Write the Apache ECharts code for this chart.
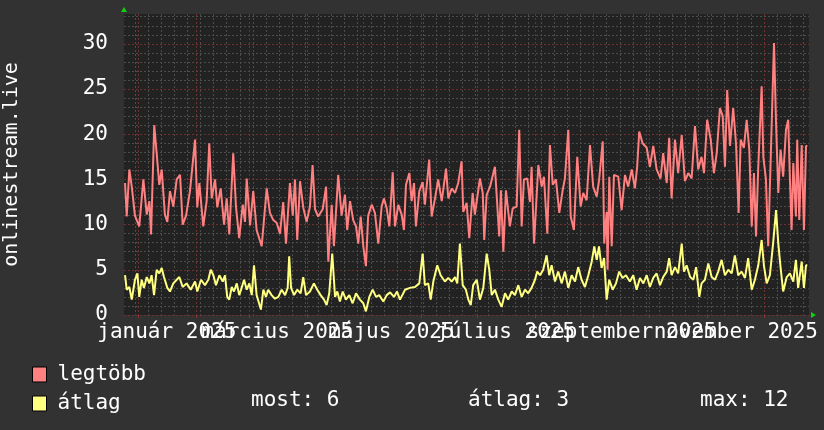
<!DOCTYPE html>
<html><head><meta charset="utf-8">
<script src="https://cdn.jsdelivr.net/npm/echarts@6/dist/echarts.min.js"></script>
<style>html,body{margin:0;padding:0;background:#323232}#c{width:824px;height:430px}</style>
</head><body><div id="c"></div><script>
// x values: days since 2025-01-01
const xMinDay = -7.85, xMaxDay = 358.1;
const monthStartDays = [0,31,59,90,120,151,181,212,243,273,304,334];
const mondayDays = [-2,5,12,19,26,33,40,47,54,61,68,75,82,89,96,103,110,117,124,131,138,145,152,159,166,173,180,187,194,201,208,215,222,229,236,243,250,257,264,271,278,285,292,299,306,313,320,327,334,341,348,355];
const labelDays = [15,74,135,196,258,319];
const labelTexts = ['január 2025','március 2025','május 2025','július 2025','szeptember 2025','november 2025'];
const yTitle = 'onlinestream.live';
const seriesNames = ['legtöbb','átlag'];
const statNow = 6, statAvg = 3, statMax = 12;

const redDays = [-7.3,-6.4,-5.0,-3.7,-2.0,0.3,2.5,4.3,5.7,6.6,8.3,9.6,11.0,12.3,14.0,15.3,16.7,18.5,20.3,22.1,23.5,25.3,27.4,30.1,31.3,32.4,34.5,36.3,37.7,39.0,40.8,42.0,43.8,45.6,47.0,48.4,50.5,52.0,53.7,55.6,56.8,57.7,59.5,61.2,63.0,65.7,68.4,70.1,71.9,73.7,75.5,77.2,78.7,80.8,82.3,83.5,84.7,86.2,87.9,89.7,91.5,92.9,94.2,95.9,98.3,100.1,101.3,103.1,104.3,106.6,108.4,110.2,111.4,112.9,114.6,116.1,117.3,118.6,120.0,121.4,122.6,124.5,126.2,128.0,129.8,131.0,132.5,133.9,135.7,136.9,138.7,140.5,141.7,142.8,144.6,145.8,147.1,148.1,149.9,151.7,152.9,155.2,156.5,158.3,160.0,161.9,164.2,165.4,167.2,169.0,170.7,172.5,173.4,175.2,176.6,178.4,179.6,182.3,183.8,184.6,185.9,187.7,190.3,192.6,193.5,194.8,196.2,198.3,199.8,201.9,203.3,204.6,205.8,207.6,209.0,209.9,211.2,213.5,215.3,216.5,218.3,219.7,221.2,222.9,224.7,226.5,227.7,229.5,230.8,232.5,234.3,236.1,237.5,239.3,241.1,242.8,244.7,246.0,247.9,248.7,250.0,250.5,251.4,252.7,253.9,256.2,258.0,259.8,261.5,263.4,265.1,266.3,267.4,269.2,271.4,273.1,274.9,276.7,278.8,280.2,282.1,283.4,284.7,286.5,288.2,290.1,291.8,293.6,295.4,297.2,298.9,300.7,302.0,303.7,305.6,307.3,308.8,310.5,312.0,313.2,314.4,315.9,317.6,319.1,320.5,321.6,323.3,324.8,326.2,327.5,328.7,329.8,331.0,332.8,333.7,335.1,336.3,337.6,339.4,340.5,341.7,342.9,344.3,345.8,347.0,347.9,348.8,349.7,351.1,351.8,352.9,354.2,355.4,356.5,357.2];
const redVals = [14.6,10.9,16.1,14.2,11.0,9.8,15.0,11.1,12.6,8.9,21.0,17.9,14.4,16.1,11.1,10.3,13.7,12.0,15.0,15.5,10.0,11.0,13.7,19.4,11.9,14.6,9.8,12.6,19.0,12.9,15.0,11.9,14.0,10.0,12.9,8.9,17.9,11.9,8.5,12.2,10.3,15.1,9.9,13.7,9.4,7.6,14.0,11.3,10.5,10.2,9.0,12.5,7.9,14.6,11.0,15.0,8.3,14.8,11.9,10.3,12.0,16.6,11.7,10.9,11.7,14.2,5.9,12.2,7.6,15.5,11.0,13.3,9.4,12.6,10.5,9.8,7.9,10.9,7.6,5.4,11.0,12.2,11.3,7.9,12.0,12.9,11.8,9.8,15.8,9.8,12.2,11.1,9.4,14.4,15.7,12.6,14.6,9.8,13.7,14.7,12.2,17.2,10.9,12.9,15.0,12.6,16.2,12.9,14.0,13.5,14.6,17.0,11.4,12.4,8.5,13.5,11.1,15.1,13.5,8.3,13.3,14.2,16.4,8.7,13.8,7.0,13.8,9.8,11.8,12.0,20.5,9.8,15.0,15.1,12.5,16.4,7.9,16.6,14.2,15.3,9.0,18.8,14.4,15.0,11.3,13.8,15.1,20.5,10.9,9.4,17.5,12.0,13.5,12.7,18.8,14.2,13.1,15.0,19.2,7.9,11.4,5.0,15.3,7.6,15.5,15.3,11.6,15.5,14.2,16.1,14.0,16.4,20.3,19.0,18.5,16.4,18.7,16.1,15.1,17.9,14.6,19.6,12.9,19.4,15.7,19.9,14.8,15.7,15.1,20.9,16.1,17.5,15.7,21.6,19.4,15.7,17.9,22.9,22.0,16.4,24.9,18.7,22.9,19.0,11.3,19.4,18.5,21.6,18.3,9.8,15.7,8.7,16.4,25.3,17.5,15.0,7.6,17.0,30.1,21.2,13.5,18.3,15.3,20.5,21.6,15.1,9.4,16.8,10.9,19.4,10.5,18.8,9.4,18.7,18.7];

const yelDays = [-7.3,-6.4,-5.0,-3.7,-2.0,-0.7,0.3,1.6,2.8,4.3,5.7,6.9,8.2,9.6,11.0,12.3,13.5,15.3,16.7,18.5,20.3,21.7,23.5,25.6,27.8,30.1,31.3,33.3,35.4,37.2,38.5,39.9,41.3,43.1,44.9,46.1,47.3,48.4,49.7,50.9,52.4,53.7,55.0,56.3,57.7,59.1,60.4,61.6,63.0,64.3,65.3,66.6,68.0,69.2,71.0,72.8,74.6,76.4,78.2,79.6,80.4,81.4,83.0,84.7,86.5,87.9,89.4,91.5,93.6,95.4,97.2,99.0,100.4,101.8,103.4,104.9,106.1,107.5,109.0,110.7,112.5,114.3,116.1,118.2,120.0,121.4,123.2,125.0,126.8,128.5,130.7,132.5,134.3,136.4,138.0,139.6,142.3,144.9,147.6,149.9,151.7,152.9,154.7,156.0,157.4,159.5,161.3,163.6,165.4,167.2,169.0,170.2,171.6,173.1,174.8,176.1,177.4,178.7,180.6,182.3,184.1,185.9,187.3,188.6,190.3,192.1,193.9,195.7,197.4,199.3,201.0,202.8,204.6,206.4,208.1,209.9,211.7,212.9,214.4,216.1,217.9,219.3,220.6,222.4,224.1,226.0,227.7,229.5,231.3,233.1,234.8,236.6,238.4,240.2,242.0,243.4,244.7,245.9,247.3,248.6,250.0,251.4,253.2,255.0,256.7,258.5,260.3,262.4,264.2,266.0,267.8,269.6,271.4,273.1,274.9,276.7,278.5,280.2,282.1,283.4,284.7,286.5,288.2,290.1,291.3,292.7,294.6,296.3,297.8,299.5,300.7,302.5,304.3,306.1,307.9,309.6,311.4,313.2,315.0,316.8,318.5,320.3,322.1,323.9,325.6,327.5,329.2,331.0,332.8,334.0,335.5,337.2,339.0,340.5,341.7,342.9,344.3,346.2,347.9,349.7,351.1,352.3,354.2,355.4,356.5,357.2];
const yelVals = [4.4,2.8,3.1,1.7,3.9,4.6,2.0,3.9,3.0,4.2,3.5,4.4,2.2,5.0,4.6,5.2,4.2,3.0,2.6,3.5,3.9,4.2,3.1,3.5,2.8,3.7,2.6,3.9,3.3,3.9,5.0,4.4,3.3,4.4,3.7,4.4,2.0,1.7,3.1,2.6,3.5,2.2,3.0,3.9,2.8,3.5,2.2,5.5,2.2,1.3,0.6,2.8,2.0,2.8,2.2,1.8,2.0,2.8,2.2,3.0,6.5,3.0,2.2,2.8,2.4,4.2,2.2,2.6,3.5,2.8,2.2,1.7,1.1,2.4,6.8,2.0,2.6,1.5,2.6,1.7,2.2,1.3,2.4,1.7,1.3,0.4,2.0,2.8,2.0,2.2,1.5,2.2,2.5,2.0,2.6,1.7,2.8,3.0,3.1,3.5,6.8,3.3,3.5,1.7,3.7,5.5,4.4,3.7,4.1,3.7,4.2,3.5,7.9,3.3,2.8,1.7,1.1,3.3,3.9,1.7,3.0,6.8,5.0,2.2,2.8,1.7,0.9,2.4,1.7,2.6,2.2,3.3,2.0,2.8,2.4,3.0,3.9,4.8,4.4,5.0,6.6,4.4,5.5,3.7,4.8,3.5,4.8,3.0,4.4,3.7,5.3,3.9,3.1,4.4,5.9,7.6,6.1,7.6,5.2,6.3,1.7,3.9,2.8,3.5,4.8,4.1,4.4,3.7,4.4,2.8,4.1,3.5,4.4,3.1,4.1,4.6,3.3,4.2,4.8,6.3,4.4,5.3,4.6,7.9,4.8,5.5,4.2,3.9,5.3,2.0,3.5,3.9,5.7,4.2,3.9,4.8,6.1,4.4,5.0,4.6,6.6,4.4,4.8,4.1,6.3,2.8,3.9,5.5,8.3,5.5,3.5,4.4,8.1,11.6,7.9,5.3,2.6,4.2,4.6,3.7,6.1,3.0,5.9,3.0,5.5,5.5];

const FONT = 'DejaVu Sans Mono';
const FS = 21;
const RED = '#ff8080', YEL = '#ffff80';
const labelFmt = v => { const i = labelDays.indexOf(Math.round(v)); return i >= 0 ? labelTexts[i] : ''; };
const labelStyle = {show: true, margin: 7, color: '#ffffff', fontFamily: FONT, fontSize: FS,
  showMinLabel: true, showMaxLabel: true, hideOverlap: false, formatter: labelFmt};
const chart = echarts.init(document.getElementById('c'), null, {renderer: 'canvas'});
chart.setOption({
  backgroundColor: '#323232',
  animation: false,
  grid: {left: 124, right: 15, top: 14, bottom: 115, show: true, backgroundColor: '#222222', borderWidth: 0,
         containLabel: false, outerBoundsMode: 'none'},
  legend: {
    orient: 'vertical', left: 32, top: 364, padding: 0, itemWidth: 14, itemHeight: 15, itemGap: 8,
    icon: 'rect', selectedMode: false,
    textStyle: {color: '#ffffff', fontFamily: FONT, fontSize: FS, padding: [0,0,0,6]},
    data: seriesNames.map((n, i) => ({name: n, itemStyle: {color: i ? YEL : RED, borderColor: '#000', borderWidth: 1}}))
  },
  xAxis: [
    {type: 'value', min: xMinDay, max: xMaxDay, position: 'top',
     axisLine: {show: false}, axisLabel: {show: false},
     axisTick: {show: false, customValues: mondayDays},
     splitLine: {show: true, lineStyle: {color: '#4c4c4c', width: 1, type: [2, 2]}}},
    {type: 'value', min: xMinDay, max: xMaxDay, position: 'bottom',
     axisLine: {show: false},
     axisTick: {show: true, customValues: monthStartDays, length: 3, lineStyle: {color: '#8a3030'}},
     axisLabel: Object.assign({customValues: labelDays.filter((d, i) => i % 2 === 0)}, labelStyle),
     splitLine: {show: true, lineStyle: {color: '#703030', width: 1, type: [2, 2]}}},
    {type: 'value', min: xMinDay, max: xMaxDay, position: 'bottom', offset: 0,
     axisLine: {show: false}, axisTick: {show: false}, splitLine: {show: false},
     axisLabel: Object.assign({customValues: labelDays.filter((d, i) => i % 2 === 1)}, labelStyle)}
  ],
  yAxis: {
    type: 'value', min: 0, max: 33.3, interval: 1,
    name: yTitle, nameLocation: 'middle', nameRotate: 90, nameGap: 102,
    nameTextStyle: {color: '#ffffff', fontFamily: FONT, fontSize: 20},
    axisLine: {show: false}, axisTick: {show: false},
    axisLabel: {color: '#ffffff', fontFamily: FONT, fontSize: FS, margin: 16,
      formatter: v => (Math.abs(v % 5) < 1e-9 ? String(v) : '')},
    splitLine: {show: true, showMaxLine: false,
      lineStyle: {color: ['#703030', '#4c4c4c', '#4c4c4c', '#4c4c4c', '#4c4c4c'], width: 1, type: [2, 2]}}
  },
  graphic: [
    {type: 'polygon', shape: {points: [[121, 12], [127, 12], [124, 7]]}, style: {fill: '#10d010'}},
    {type: 'polygon', shape: {points: [[811, 312], [811, 318], [816, 315]]}, style: {fill: '#10d010'}},
    {type: 'text', left: 251, top: 390, style: {text: 'most: ' + statNow, fill: '#fff', font: FS + 'px "' + FONT + '"'}},
    {type: 'text', left: 468, top: 390, style: {text: 'átlag: ' + statAvg, fill: '#fff', font: FS + 'px "' + FONT + '"'}},
    {type: 'text', left: 700, top: 390, style: {text: 'max: ' + statMax, fill: '#fff', font: FS + 'px "' + FONT + '"'}}
  ],
  series: [
    {name: seriesNames[0], type: 'line', xAxisIndex: 1, showSymbol: false, color: RED,
     lineStyle: {width: 2, color: RED}, data: redDays.map((d, i) => [d, redVals[i]])},
    {name: seriesNames[1], type: 'line', xAxisIndex: 1, showSymbol: false, color: YEL,
     lineStyle: {width: 2, color: YEL}, data: yelDays.map((d, i) => [d, yelVals[i]])}
  ]
});
</script></body></html>
